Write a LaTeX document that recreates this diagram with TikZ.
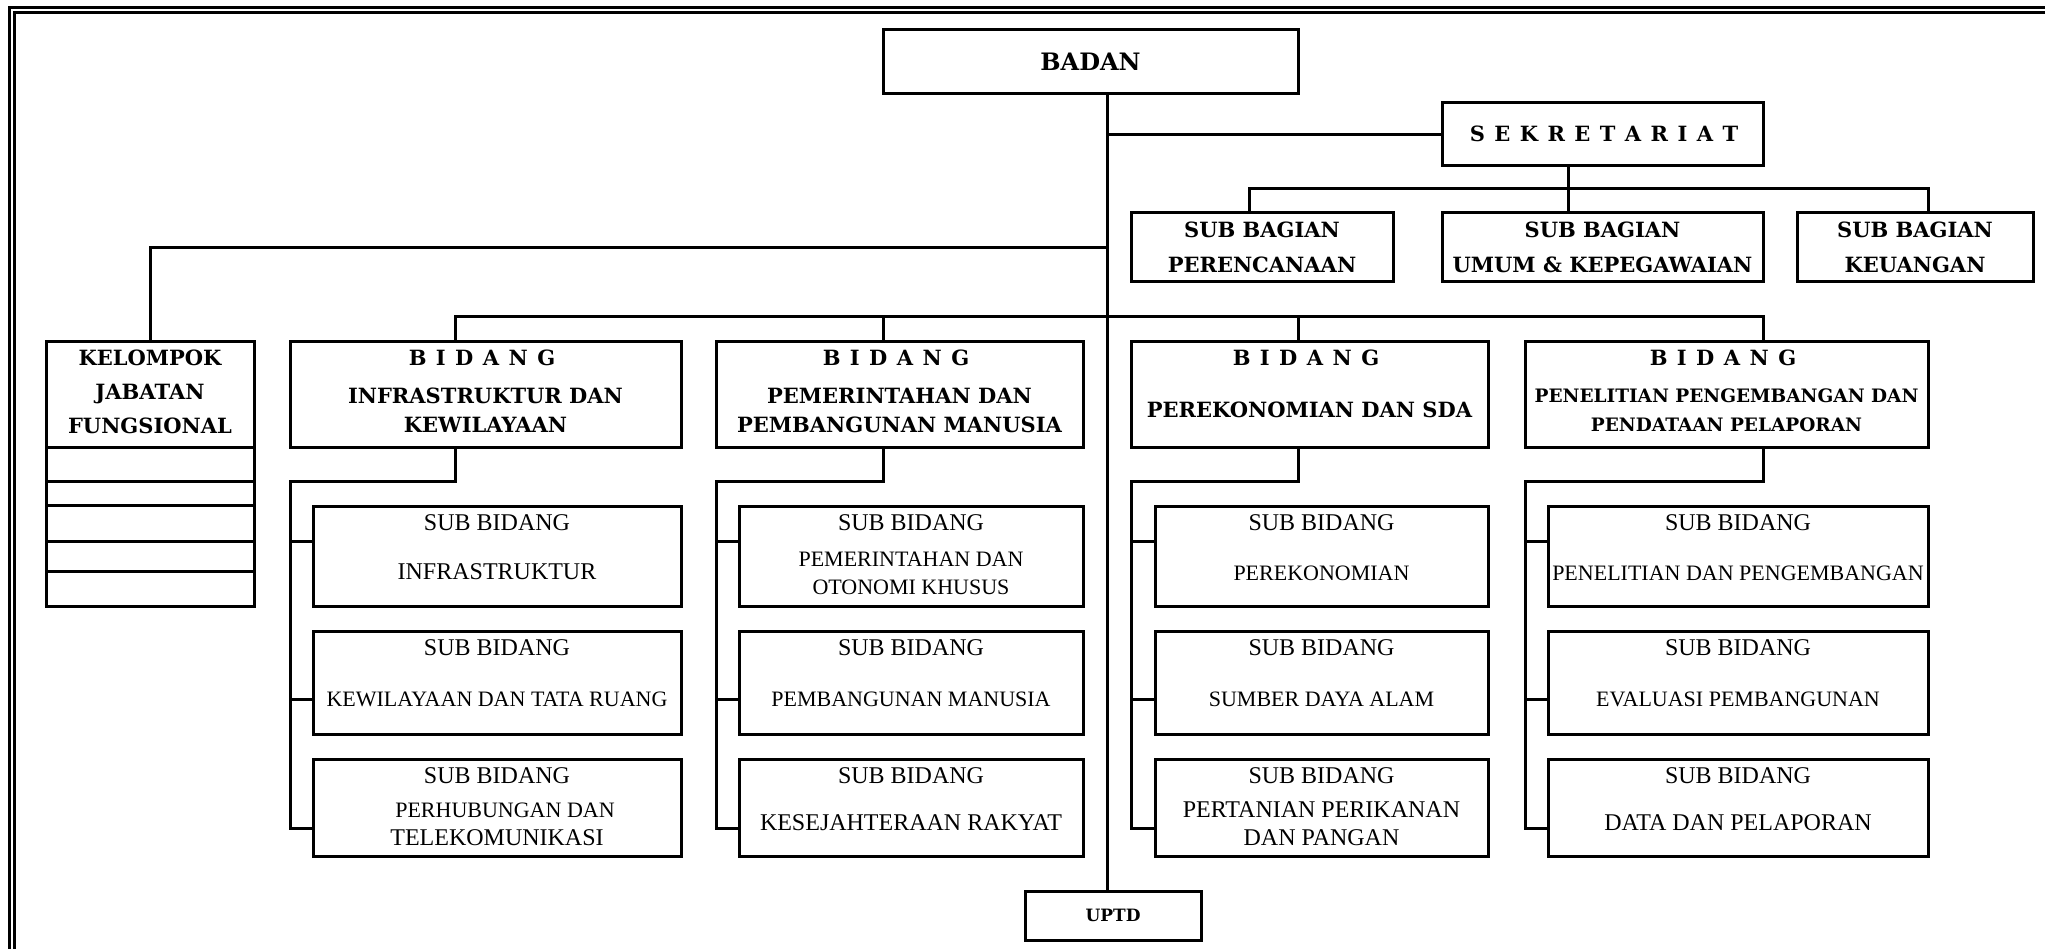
\documentclass[tikz,border=0pt]{standalone}
\usepackage{fontspec}
\setmainfont{Liberation Serif}
\newfontfamily\bsf{DejaVu Serif}
\newcommand\lsp{\spaceskip=0.45em\relax}
\tikzset{
  box/.style={draw, line width=3pt, inner sep=0pt, outer sep=0pt},
  ln/.style={line width=3pt, line join=miter},
  bt/.style={font=\bsf\bfseries\fontsize{21}{25}\selectfont, inner sep=0pt, text height=15.3pt, text depth=0pt},
  bbig/.style={font=\bsf\bfseries\fontsize{24}{28}\selectfont, inner sep=0pt, text height=17.5pt, text depth=0pt},
  bsm/.style={font=\bsf\bfseries\fontsize{18.5}{22}\selectfont, inner sep=0pt, text height=13.5pt, text depth=0pt},
  bup/.style={font=\bsf\bfseries\fontsize{17}{20}\selectfont, inner sep=0pt, text height=12.4pt, text depth=0pt},
  bsp/.style={font=\bsf\bfseries\fontsize{21}{25}\selectfont, inner sep=0pt, text height=15.3pt, text depth=0pt},
  sh/.style={font=\fontsize{24}{28}\selectfont, inner sep=0pt, text height=15.9pt, text depth=0pt},
  rt/.style={font=\fontsize{22}{26}\selectfont, inner sep=0pt, text height=14.6pt, text depth=0pt}
}
\begin{document}
\begin{tikzpicture}[x=1pt,y=-1pt]
\useasboundingbox (0,0) rectangle (2045,949);
\clip (0,0) rectangle (2045,949);
% frame
\draw[ln] (9.5,7.5) rectangle (2100,1000);
\draw[ln] (14.5,12.5) rectangle (2100,1000);

% top boxes
\node[box, minimum width=415pt, minimum height=64pt] (badan) at (1090.5,62) {};
\node[box, minimum width=321pt, minimum height=63pt] (sekr) at (1602.5,134.5) {};
\node[box, minimum width=262pt, minimum height=69pt] (sbp) at (1262,247.5) {};
\node[box, minimum width=321pt, minimum height=69pt] (sbu) at (1602.5,247.5) {};
\node[box, minimum width=236pt, minimum height=69pt] (sbk) at (1915,247.5) {};
\node[box, minimum width=208pt, minimum height=264pt] (kjf) at (150,474) {};
\node[box, minimum width=176pt, minimum height=49pt] (uptd) at (1113,915.5) {};

% bidang
\node[box, minimum width=391pt, minimum height=105pt] (b1) at (485.5,394.5) {};
\node[box, minimum width=367pt, minimum height=105pt] (b2) at (899.5,394.5) {};
\node[box, minimum width=357pt, minimum height=105pt] (b3) at (1309.5,394.5) {};
\node[box, minimum width=403pt, minimum height=105pt] (b4) at (1726.5,394.5) {};

% sub bidang
\foreach \c/\cx/\w in {1/497/368, 2/911/344, 3/1321.5/333, 4/1738/380}{
  \node[box, minimum width=\w pt, minimum height=100pt] (s\c1) at (\cx,556) {};
  \node[box, minimum width=\w pt, minimum height=103pt] (s\c2) at (\cx,682.5) {};
  \node[box, minimum width=\w pt, minimum height=97pt] (s\c3) at (\cx,807.5) {};
}

% coordinates
\coordinate (mx) at (1107,0);
\coordinate (sx) at (1568,189);
\coordinate (pb) at (1249,189);
\coordinate (kb) at (1928,189);
\coordinate (kl) at (150,248);
\coordinate (bb1) at (455,317);
\coordinate (bb2) at (883,317);
\coordinate (bb3) at (1298,317);
\coordinate (bb4) at (1763,317);

% connectors
\draw[ln] (badan.south -| mx) -- (uptd.north -| mx);
\draw[ln] (mx |- sekr.west) -- (sekr.west);
\draw[ln] (sekr.south -| sx) -- (sbu.north -| sx);
\draw[ln] (sbp.north -| pb) -- (pb) -- (kb) -- (sbk.north -| kb);
\draw[ln] (mx |- kl) -- (kl) -- (kjf.north);
\draw[ln] (b1.north -| bb1) -- (bb1) -- (bb4) -- (b4.north -| bb4);
\draw[ln] (bb2) -- (b2.north -| bb2);
\draw[ln] (bb3) -- (b3.north -| bb3);
\foreach \i in {1,2,3,4}{
  \draw[ln] (b\i.south -| bb\i) |- (b\i.west |- 0,481) |- (s\i3.west |- 0,828);
  \draw[ln] (b\i.west |- 0,541) -- (s\i1.west |- 0,541);
  \draw[ln] (b\i.west |- 0,699) -- (s\i2.west |- 0,699);
}
\foreach \yy in {447,481,505,541,571}{
  \draw[ln] (kjf.west |- 0,\yy) -- (kjf.east |- 0,\yy);
}

% texts
\node[bbig] (tbadan) at (1090.5,62) {BADAN};
\node[bsp] (tsekr) at (1604,134) {\lsp S E K R E T A R I A T};
\node[bt] (tsbp1) at (1262,230) {SUB BAGIAN};
\node[bt] (tsbp2) at (1262,265) {PERENCANAAN};
\node[bt] (tsbu1) at (1602.5,230) {SUB BAGIAN};
\node[bt] (tsbu2) at (1602.5,265) {UMUM \& KEPEGAWAIAN};
\node[bt] (tsbk1) at (1915,230) {SUB BAGIAN};
\node[bt] (tsbk2) at (1915,265) {KEUANGAN};
\node[bt] (tkjf1) at (150,358) {KELOMPOK};
\node[bt] (tkjf2) at (150,392) {JABATAN};
\node[bt] (tkjf3) at (150,426) {FUNGSIONAL};
\node[bup] (tuptd) at (1113,915.5) {UPTD};

\node[bsp] (tb1a) at (482,358) {\lsp B I D A N G};
\node[bt] (tb1b) at (485.5,396) {INFRASTRUKTUR DAN};
\node[bt] (tb1c) at (485.5,425) {KEWILAYAAN};
\node[bsp] (tb2a) at (896,358) {\lsp B I D A N G};
\node[bt] (tb2b) at (899.5,396) {PEMERINTAHAN DAN};
\node[bt] (tb2c) at (899.5,425) {PEMBANGUNAN MANUSIA};
\node[bsp] (tb3a) at (1306,358) {\lsp B I D A N G};
\node[bt] (tb3b) at (1309.5,410) {PEREKONOMIAN DAN SDA};
\node[bsp] (tb4a) at (1723,358) {\lsp B I D A N G};
\node[bsm] (tb4b) at (1726.5,396) {PENELITIAN PENGEMBANGAN DAN};
\node[bsm] (tb4c) at (1726.5,425) {PENDATAAN PELAPORAN};

\foreach \c/\cx in {1/497, 2/911, 3/1321.5, 4/1738}{
  \node[sh] (h\c1) at (\cx,523) {SUB BIDANG};
  \node[sh] (h\c2) at (\cx,648) {SUB BIDANG};
  \node[sh] (h\c3) at (\cx,776) {SUB BIDANG};
}
\node[sh] (t11) at (497,572) {INFRASTRUKTUR};
\node[rt] (t12) at (497,699) {KEWILAYAAN DAN TATA RUANG};
\node[rt] (t13a) at (505,810) {PERHUBUNGAN DAN};
\node[sh] (t13b) at (497,838) {TELEKOMUNIKASI};
\node[rt] (t21a) at (911,559) {PEMERINTAHAN DAN};
\node[rt] (t21b) at (911,587) {OTONOMI KHUSUS};
\node[rt] (t22) at (911,699) {PEMBANGUNAN MANUSIA};
\node[sh] (t23) at (911,823) {KESEJAHTERAAN RAKYAT};
\node[rt] (t31) at (1321.5,573) {PEREKONOMIAN};
\node[rt] (t32) at (1321.5,699) {SUMBER DAYA ALAM};
\node[sh] (t33a) at (1321.5,810) {PERTANIAN PERIKANAN};
\node[sh] (t33b) at (1321.5,838) {DAN PANGAN};
\node[rt] (t41) at (1738,573) {PENELITIAN DAN PENGEMBANGAN};
\node[rt] (t42) at (1738,699) {EVALUASI PEMBANGUNAN};
\node[sh] (t43) at (1738,823) {DATA DAN PELAPORAN};
\end{tikzpicture}
\end{document}
